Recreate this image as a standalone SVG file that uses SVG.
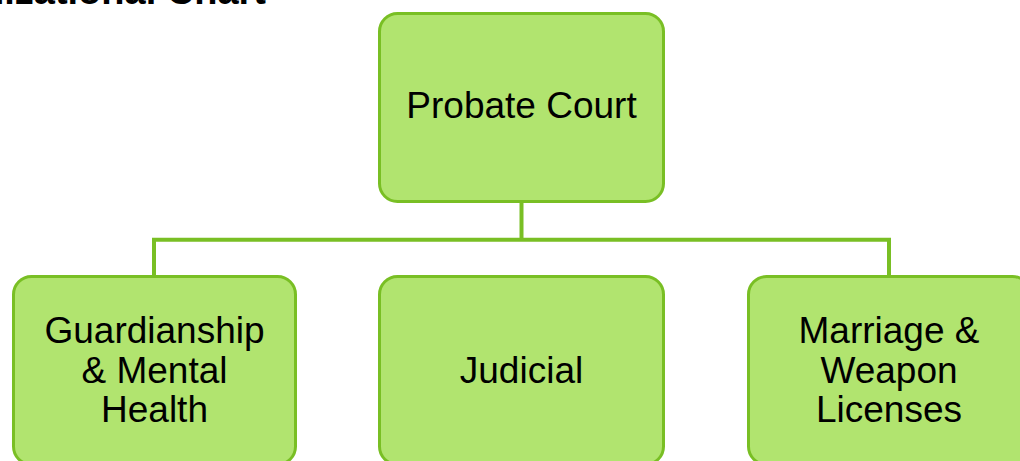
<svg xmlns="http://www.w3.org/2000/svg" width="1020" height="461" viewBox="0 0 1020 461">
  <style>
    .box { fill: #b1e46f; stroke: #79bf24; stroke-width: 3; }
    .lbl { font-family: "Liberation Sans", Arial, sans-serif; font-size: 37px; fill: #000; text-anchor: middle; }
    .title { font-family: "Liberation Sans", Arial, sans-serif; font-size: 38px; font-weight: bold; fill: #000; text-anchor: end; }
    .conn { fill: none; stroke: #79bf24; stroke-width: 4; }
  </style>
  <rect width="1020" height="461" fill="#ffffff"/>
  <text class="title" x="266" y="3.5">Organizational Chart</text>
  <g id="connectors">
    <path class="conn" d="M521.5 203 V239.7 M154 276 V239.7 H889 V276"/>
  </g>
  <g id="probate-court">
    <rect class="box" x="379.5" y="13.5" width="284" height="188" rx="18"/>
    <text class="lbl" x="521.5" y="118">Probate Court</text>
  </g>
  <g id="guardianship">
    <rect class="box" x="13.5" y="276.5" width="282" height="188" rx="18"/>
    <text class="lbl" x="154.5" y="343">Guardianship</text>
    <text class="lbl" x="154.5" y="383">&amp; Mental</text>
    <text class="lbl" x="154.5" y="422">Health</text>
  </g>
  <g id="judicial">
    <rect class="box" x="379.5" y="276.5" width="284" height="188" rx="18"/>
    <text class="lbl" x="521.5" y="383">Judicial</text>
  </g>
  <g id="marriage-weapon">
    <rect class="box" x="748.5" y="276.5" width="282" height="188" rx="18"/>
    <text class="lbl" x="889" y="343">Marriage &amp;</text>
    <text class="lbl" x="889" y="383">Weapon</text>
    <text class="lbl" x="889" y="422">Licenses</text>
  </g>
</svg>
